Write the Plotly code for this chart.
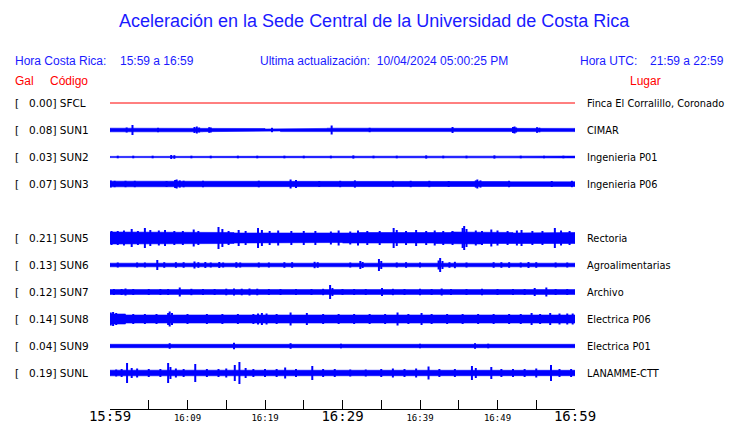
import plotly.graph_objects as go

# ---------------- data ----------------
rows = ["SFCL", "SUN1", "SUN2", "SUN3", None, "SUN5", "SUN6", "SUN7", "SUN8", "SUN9", "SUNL"]
gal = {"SFCL": 0.00, "SUN1": 0.08, "SUN2": 0.03, "SUN3": 0.07, "SUN5": 0.21,
       "SUN6": 0.13, "SUN7": 0.12, "SUN8": 0.14, "SUN9": 0.04, "SUNL": 0.19}
lugar = {"SFCL": "Finca El Corralillo, Coronado", "SUN1": "CIMAR", "SUN2": "Ingenieria P01",
         "SUN3": "Ingenieria P06", "SUN5": "Rectoria", "SUN6": "Agroalimentarias",
         "SUN7": "Archivo", "SUN8": "Electrica P06", "SUN9": "Electrica P01",
         "SUNL": "LANAMME-CTT"}

# time axis (minutes after 15:59)
tick_minutes = [0, 5, 10, 15, 20, 25, 30, 35, 40, 45, 50, 55, 60]
tick_labels = ["15:59", "", "16:09", "", "16:19", "", "16:29", "", "16:39", "", "16:49", "", "16:59"]
tick_big = ["15:59", "16:29", "16:59"]

# envelope half-amplitude (trace units), one value per 2-minute block
env_minutes = list(range(0, 62, 2))
base_env = {
    "SFCL": [0.0] * 31,
    "SUN1": [1.8, 1.8, 1.7, 1.6, 1.7, 1.8, 1.7, 1.6, 1.7, 1.5, 1.0, 1.6, 1.7, 1.6, 1.8, 1.7,
             1.6, 1.7, 1.6, 1.7, 1.6, 1.7, 1.8, 1.6, 1.7, 1.5, 1.7, 1.8, 1.7, 1.6, 1.6],
    "SUN2": [0.6, 0.9, 0.5, 1.0, 0.9, 0.6, 0.9, 0.5, 1.0, 0.6, 0.8, 0.5, 0.9, 0.7, 1.0, 0.5,
             0.9, 0.6, 0.9, 1.0, 0.5, 0.9, 0.7, 1.0, 0.9, 0.6, 1.0, 0.9, 0.7, 0.9, 0.8],
    "SUN3": [2.8, 2.4, 2.5, 2.4, 2.6, 2.4, 2.5, 2.3, 2.4, 2.4, 2.5, 2.4, 2.5, 2.3, 2.4, 2.5,
             2.6, 2.4, 2.4, 2.5, 2.3, 2.4, 2.6, 2.5, 2.4, 2.3, 2.4, 2.5, 2.4, 2.4, 2.5],
    "SUN5": [6.0, 6.0, 5.5, 6.0, 5.5, 5.5, 6.0, 5.5, 5.0, 5.0, 4.5, 4.5, 5.0, 5.0, 4.5, 5.0,
             5.5, 5.0, 5.0, 5.5, 5.0, 5.5, 6.0, 6.0, 5.5, 5.5, 5.0, 5.0, 5.5, 5.5, 5.5],
    "SUN6": [1.8, 1.8, 1.7, 1.8, 1.8, 1.7, 1.8, 1.8, 1.7, 1.8, 1.8, 1.8, 1.7, 1.8, 1.8, 1.8,
             1.7, 1.8, 1.8, 1.8, 1.8, 1.7, 1.8, 1.8, 1.8, 1.8, 1.8, 1.7, 1.8, 1.8, 1.8],
    "SUN7": [2.4, 2.3, 2.3, 2.2, 2.4, 2.3, 2.3, 2.4, 2.4, 2.5, 2.3, 2.3, 2.2, 2.3, 2.3, 2.4,
             2.3, 2.3, 2.2, 2.3, 2.3, 2.4, 2.3, 2.3, 2.3, 2.3, 2.2, 2.3, 2.4, 2.4, 2.4],
    "SUN8": [5.0, 4.0, 4.0, 3.5, 4.0, 3.5, 3.5, 3.5, 3.5, 4.0, 4.0, 4.0, 4.0, 4.0, 3.5, 3.5,
             4.0, 3.5, 4.0, 4.0, 3.5, 4.0, 3.5, 3.5, 4.0, 4.0, 4.0, 4.0, 4.0, 4.0, 4.5],
    "SUN9": [1.7] * 31,
    "SUNL": [2.8, 2.8, 2.7, 2.8, 2.6, 2.8, 2.8, 2.7, 2.8, 2.8, 2.6, 2.6, 2.7, 2.6, 2.6, 2.6,
             2.7, 2.8, 2.8, 2.7, 2.8, 2.8, 2.7, 2.6, 2.8, 2.8, 2.7, 2.7, 2.8, 2.7, 2.8],
}

# bursts: (minute, half-amplitude)
bursts = {
    "SFCL": [],
    "SUN1": [(2.15, 2.5), (2.9, 5), (6.2, 2.2), (10.9, 3), (11.2, 3.5), (11.5, 2.5), (12.8, 2.8),
             (13.0, 2.5), (20.9, 2.2), (28.6, 4.5), (33.5, 2.2), (44.2, 3), (52.0, 3), (52.2, 3.5),
             (52.4, 2.5), (55.1, 2.8), (55.4, 2.3)],
    "SUN2": [(1.0, 1.3), (3.0, 1.3), (5.5, 1.3), (7.9, 2.0), (8.3, 1.8), (10.5, 1.3), (13.0, 1.3),
             (16.5, 1.3), (19.0, 1.3), (22.5, 1.3), (25.0, 1.3), (28.5, 1.3), (31.4, 1.6), (34.0, 1.3),
             (37.0, 1.3), (40.8, 1.6), (43.0, 1.3), (46.0, 1.3), (49.6, 1.6), (53.0, 1.3), (56.0, 1.3),
             (58.5, 1.3)],
    "SUN3": [(0.1, 3.5), (0.6, 3.2), (2.0, 3.2), (3.2, 3.2), (7.3, 3.0), (8.4, 4.0), (8.6, 4.5),
             (9.0, 3.6), (9.5, 3.3), (12.0, 3.2), (19.2, 3.3), (23.3, 4.5), (24.0, 4.0), (27.0, 3.0),
             (29.7, 3.2), (31.6, 3.6), (36.5, 3.2), (38.8, 3.2), (41.2, 3.2), (43.7, 3.0), (47.2, 3.6),
             (47.4, 4.5), (47.8, 3.6), (51.5, 3.2), (57.0, 3.0), (59.6, 3.2)],
    "SUN5": [(0.2, 7), (1.0, 7), (1.8, 7.5), (2.8, 9), (3.6, 7), (4.5, 10), (5.2, 8), (6.3, 7.5),
             (7.1, 8), (8.3, 7), (9.4, 7), (10.8, 8.5), (11.4, 7), (14.0, 11), (14.5, 9), (15.3, 7),
             (16.6, 8), (17.5, 7), (19.1, 10), (19.6, 8), (20.6, 7), (21.7, 7.5), (23.4, 7), (25.0, 7),
             (26.5, 7), (28.5, 6.5), (29.5, 7.5), (31.0, 6.5), (32.0, 7.5), (33.2, 7), (34.8, 7),
             (36.6, 10), (37.0, 8), (38.2, 7), (39.5, 8), (40.8, 7), (41.9, 7.5), (43.0, 7), (44.2, 7),
             (45.5, 10), (45.7, 12), (46.0, 9), (47.2, 7.5), (48.0, 7), (49.2, 8.5), (50.0, 7.5),
             (51.3, 7), (52.5, 7.5), (53.1, 8), (54.5, 7), (55.8, 7), (57.4, 10), (58.2, 7.5), (59.3, 7)],
    "SUN6": [(1.0, 2.5), (3.5, 2.5), (4.5, 2.5), (6.1, 5), (7.0, 2.8), (8.5, 2.8), (9.5, 2.8),
             (10.9, 3.5), (11.4, 2.8), (12.3, 3), (13.0, 2.5), (14.1, 3), (14.6, 2.5), (16.3, 2.8),
             (16.8, 2.5), (19.2, 2.5), (20.5, 2.5), (22.5, 2.8), (23.5, 2.8), (26.4, 3.2), (26.8, 2.8),
             (31.0, 2.5), (32.3, 4), (32.6, 3), (34.7, 6), (35.0, 4), (37.0, 2.5), (38.2, 2.8),
             (40.0, 2.5), (42.4, 4.5), (42.6, 7), (42.9, 4), (43.8, 2.8), (44.5, 3.2), (46.0, 2.5),
             (49.5, 2.8), (50.5, 2.8), (51.5, 2.8), (53.0, 2.5), (54.0, 3), (55.0, 2.8), (57.5, 2.5),
             (59.0, 2.5)],
    "SUN7": [(0.5, 3), (1.5, 3), (2.0, 3.5), (3.0, 3), (5.0, 3), (6.5, 3), (7.5, 3), (9.0, 4.5),
             (10.5, 3.2), (12.0, 3), (13.5, 3), (15.0, 3.3), (16.0, 3.5), (17.0, 3.3), (18.0, 3.5),
             (19.0, 3.3), (20.5, 3), (22.0, 3), (24.0, 3), (26.0, 3), (27.5, 3.2), (28.4, 7), (28.7, 4),
             (30.0, 3), (31.5, 3), (33.0, 3), (35.1, 4), (36.5, 3.2), (38.0, 3), (40.0, 3.2), (41.5, 3),
             (42.8, 3.5), (44.0, 3), (46.0, 3), (48.0, 3.2), (50.0, 3), (52.0, 3), (53.5, 3),
             (54.8, 4), (56.3, 4.5), (57.5, 3), (59.0, 3)],
    "SUN8": [(0.1, 6.5), (0.4, 7), (0.8, 6), (1.5, 5), (3.0, 5), (4.5, 5), (6.0, 5), (7.5, 6),
             (7.7, 7.5), (8.0, 6), (10.0, 5), (12.5, 5), (14.5, 5), (16.5, 5), (18.5, 5), (19.1, 5.5),
             (19.6, 6), (20.2, 5.5), (21.5, 5), (23.3, 6.5), (25.4, 6), (27.5, 5), (29.5, 5), (31.5, 5),
             (33.5, 5), (35.5, 5), (37.1, 6.5), (38.5, 5), (40.2, 6), (41.5, 5), (43.5, 5), (45.5, 5),
             (47.5, 5), (49.5, 5), (51.5, 5), (53.0, 5), (54.4, 6), (55.5, 5), (56.8, 6), (58.0, 5.5),
             (59.0, 5.5), (59.7, 5.5)],
    "SUN9": [(7.7, 2.8), (16.0, 3.2), (23.3, 2.8), (29.8, 2.3), (40.0, 2.2), (47.1, 2.8), (48.8, 2.3)],
    "SUNL": [(0.8, 3.5), (1.5, 4), (2.2, 10), (2.8, 5), (3.5, 4.5), (5.0, 4), (6.5, 4), (7.5, 10),
             (7.8, 6), (8.5, 4.5), (9.5, 4), (11.0, 9), (12.5, 4), (14.0, 4), (15.0, 4.5), (16.1, 8),
             (16.7, 11), (17.5, 5), (18.5, 4), (20.0, 4), (21.5, 4), (22.6, 5.5), (24.0, 4), (26.1, 7),
             (27.5, 4), (29.0, 4), (31.0, 3.5), (33.0, 3.5), (35.0, 4), (36.5, 4.5), (38.0, 4),
             (39.5, 4.5), (41.1, 6.5), (42.5, 4), (44.5, 4), (46.7, 7), (47.2, 5), (49.2, 6),
             (50.5, 4), (52.0, 4), (53.5, 4), (55.0, 4.5), (56.9, 8), (58.0, 4), (59.5, 4)],
}

# ---------------- layout helpers ----------------
OFF = 8                      # page body margin of the html output
W, H = 740 - OFF, 423 - OFF
PL, PR, PT, PB = 110, 575, 90, 409   # plot area in page pixels
SLOT = 27.0
FIRST = 13.0
PAD = 2                      # annotation inner padding
BLUE = "#0000ff"
TXT_BLUE = "#1a1aff"
RED = "#ff0000"


def px_x(p):
    return (p - PL) / (PR - PL)


def px_y(p):
    return (PB - p) / (PB - PT)


def center(k):
    return -(FIRST + SLOT * k)


fig = go.Figure()

for k, code in enumerate(rows):
    if code is None:
        continue
    c = center(k)
    env = base_env[code]
    if code == "SFCL":
        fig.add_trace(go.Scatter(x=[env_minutes[0], 60], y=[c, c], mode="lines",
                                 line=dict(color=RED, width=1), hoverinfo="skip", showlegend=False))
    else:
        ux, uy = [], []
        for i in range(len(env) - 1):
            t0, t1 = env_minutes[i], min(env_minutes[i + 1], 60)
            ux += [t0, t1]
            uy += [c + env[i], c + env[i]]
        lx = ux[::-1]
        ly = [2 * c - v for v in uy[::-1]]
        fig.add_trace(go.Scatter(x=ux + lx + [ux[0]], y=uy + ly + [uy[0]], mode="lines",
                                 fill="toself", fillcolor=BLUE, line=dict(color=BLUE, width=0.6),
                                 hoverinfo="skip", showlegend=False))
        sx, sy = [], []
        for t, a in bursts[code]:
            sx += [t, t, None]
            sy += [c + a, c - a, None]
        if sx:
            fig.add_trace(go.Scatter(x=sx, y=sy, mode="lines", line=dict(color=BLUE, width=2),
                                     hoverinfo="skip", showlegend=False))
    lab_font = dict(family="DejaVu Sans", size=10.5, color="black")
    fig.add_annotation(xref="paper", yref="y", x=px_x(15 - PAD), y=c, text="[", showarrow=False,
                       xanchor="left", yanchor="middle", font=lab_font)
    fig.add_annotation(xref="paper", yref="y", x=px_x(29 - PAD), y=c, text=f"{gal[code]:.2f}] {code}",
                       showarrow=False, xanchor="left", yanchor="middle", font=lab_font)
    fig.add_annotation(xref="paper", yref="y", x=px_x(587 - PAD), y=c, text=lugar[code],
                       showarrow=False, xanchor="left", yanchor="middle",
                       font=dict(family="DejaVu Sans", size=9.8, color="black"))

hdr = dict(family="Liberation Sans, Arial, sans-serif", size=12, color=TXT_BLUE)
fig.add_annotation(xref="paper", yref="paper", x=px_x(374), y=px_y(21),
                   text="Aceleración en la Sede Central de la Universidad de Costa Rica",
                   showarrow=False, xanchor="center", yanchor="middle",
                   font=dict(family="Liberation Sans, Arial, sans-serif", size=18, color=TXT_BLUE))
for txt, xp in [("Hora Costa Rica:", 15), ("15:59 a 16:59", 120),
                ("Ultima actualización:  10/04/2024 05:00:25 PM", 260),
                ("Hora UTC:", 580), ("21:59 a 22:59", 650)]:
    fig.add_annotation(xref="paper", yref="paper", x=px_x(xp - PAD), y=px_y(61), text=txt,
                       showarrow=False, xanchor="left", yanchor="middle", font=hdr)
for txt, xp in [("Gal", 15), ("Código", 50), ("Lugar", 630)]:
    fig.add_annotation(xref="paper", yref="paper", x=px_x(xp - PAD), y=px_y(81), text=txt,
                       showarrow=False, xanchor="left", yanchor="middle",
                       font=dict(family="Liberation Sans, Arial, sans-serif", size=12, color=RED))

ticktext = [(f'<span style="font-size:14px">{t}</span>' if t in tick_big else t) for t in tick_labels]

fig.update_layout(
    width=W, height=H,
    margin=dict(l=PL - OFF, r=740 - PR, t=PT - OFF, b=423 - PB, autoexpand=False),
    paper_bgcolor="white", plot_bgcolor="white",
    showlegend=False,
    xaxis=dict(range=[0, 60], tickmode="array", tickvals=tick_minutes, ticktext=ticktext,
               ticks="inside", ticklen=9, tickwidth=1, tickcolor="black",
               showline=True, linecolor="black", linewidth=1, showgrid=False, zeroline=False,
               tickfont=dict(family="DejaVu Sans Mono", size=9, color="black"),
               fixedrange=True, automargin=False),
    yaxis=dict(range=[-(PB - PT), 0], visible=False, showgrid=False, zeroline=False,
               fixedrange=True),
)

fig.write_html("out.html")
